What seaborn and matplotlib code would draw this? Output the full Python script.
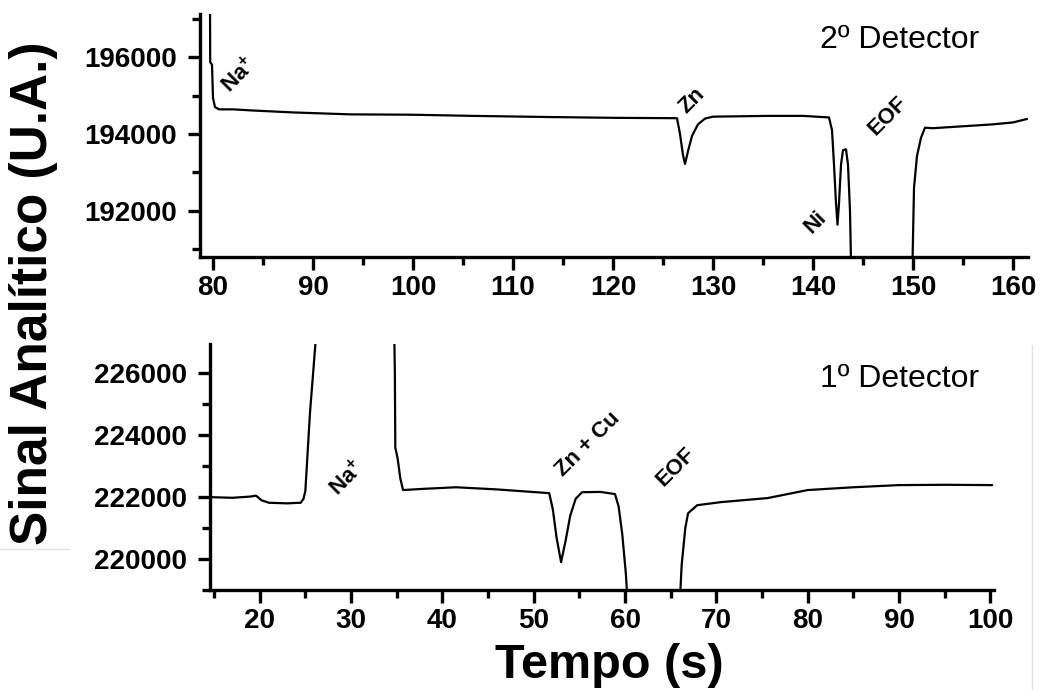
import matplotlib
matplotlib.use("Agg")
import matplotlib.pyplot as plt
import seaborn as sns
import pandas as pd
from matplotlib.lines import Line2D
from matplotlib.ticker import MultipleLocator

# ---------------- data ----------------
# 2º Detector (top panel)
t2 = [79.70, 79.72, 79.90, 80.00, 80.20, 80.60, 82.0, 84.0, 88.0, 93.7, 100.0, 106.0, 113.7,
      120.0, 126.4, 126.7, 127.0, 127.2, 127.5, 127.9, 128.5, 129.2, 130.0, 135.4, 139.0,
      141.6, 141.9, 142.1, 142.3, 142.45, 142.6, 142.8, 143.0, 143.3, 143.5, 143.7, 143.85,
      149.9, 150.1, 150.4, 150.8, 151.2, 152.0, 155.0, 158.0, 160.0, 161.4]
s2 = [197500, 195870, 195800, 194935, 194700, 194640, 194640, 194610, 194560, 194510, 194500,
      194470, 194440, 194420, 194410, 194000, 193450, 193220, 193550, 193950, 194250, 194400,
      194450, 194470, 194470, 194430, 194100, 193200, 192200, 191640, 192200, 193200, 193580,
      193600, 193200, 192000, 190000, 190000, 192600, 193430, 193900, 194163, 194150, 194200,
      194250, 194300, 194390]

# 1º Detector (bottom panel)
t1 = [14.6, 17.0, 19.0, 19.6, 20.2, 21.0, 23.0, 24.5, 24.8, 25.0, 25.5, 26.1, 26.3,
      34.7, 34.8, 34.85, 35.1, 35.4, 35.7, 38.0, 41.5, 46.0, 51.7, 52.1, 52.5, 53.0, 53.5,
      54.0, 54.6, 55.3, 57.3, 58.9, 59.3, 59.7, 60.1, 60.4,
      65.9, 66.2, 66.6, 66.9, 67.9, 70.5, 75.6, 80.0, 85.0, 90.0, 95.0, 100.2]
s1 = [222000, 221980, 222020, 222050, 221900, 221820, 221800, 221820, 221950, 222200, 224700,
      226950, 228000, 228000, 226000, 223600, 223260, 222600, 222230, 222270, 222320, 222250,
      222130, 221600, 220700, 219900, 220600, 221400, 221950, 222160, 222170, 222100, 221700,
      220800, 219500, 218000, 218000, 219800, 221000, 221480, 221740, 221840, 221970, 222230,
      222320, 222390, 222400, 222390]

# peak annotations: (label, x, y)
top_labels = [("Na$^{+}$", 82.6, 195530), ("Zn", 127.9, 194857),
              ("Ni", 140.2, 191714), ("EOF", 147.5, 194468)]
bottom_labels = [("Na$^{+}$", 29.6, 222613), ("Zn + Cu", 55.9, 223710),
                 ("EOF", 65.6, 222968)]

df2 = pd.DataFrame({"t": t2, "s": s2})
df1 = pd.DataFrame({"t": t1, "s": s1})

# ---------------- style ----------------
sns.set_style("ticks")
plt.rcParams["font.family"] = ["Liberation Sans", "DejaVu Sans"]
plt.rcParams["mathtext.fontset"] = "custom"
plt.rcParams["mathtext.rm"] = "Liberation Sans:bold"
plt.rcParams["mathtext.bf"] = "Liberation Sans:bold"
for k in ("text.color", "axes.labelcolor", "xtick.color", "ytick.color",
          "xtick.labelcolor", "ytick.labelcolor", "axes.edgecolor"):
    plt.rcParams[k] = "black"

W, H = 1042, 690
fig = plt.figure(figsize=(W / 100, H / 100), dpi=100)
fig.patch.set_facecolor("white")


def px_axes(l, t, r, b):
    return fig.add_axes([l / W, 1 - b / H, (r - l) / W, (b - t) / H])


ax_top = px_axes(200, 14, 1028, 257)
ax_bot = px_axes(210, 344, 994, 590)


def style_axes(ax):
    sns.despine(ax=ax)
    for sp in ("left", "bottom"):
        ax.spines[sp].set_linewidth(2.4)
        ax.spines[sp].set_color("black")
    ax.tick_params(which="major", direction="out", length=9, width=2.4,
                   labelsize=20, color="black", labelcolor="black")
    ax.tick_params(which="minor", direction="out", length=5.5, width=2.4, color="black")
    ax.tick_params(axis="y", which="major", pad=7.5)
    ax.tick_params(axis="x", which="major", pad=4)
    ax.set_xlabel("")
    ax.set_ylabel("")
    ax.set_facecolor("none")


sns.lineplot(data=df2, x="t", y="s", ax=ax_top, color="black", linewidth=1.6,
             sort=False, estimator=None)
ax_top.set_xlim(78.7, 161.5)
ax_top.set_ylim(190800, 197120)
ax_top.xaxis.set_major_locator(MultipleLocator(10))
ax_top.xaxis.set_minor_locator(MultipleLocator(5))
ax_top.yaxis.set_major_locator(MultipleLocator(2000))
ax_top.yaxis.set_minor_locator(MultipleLocator(1000))
style_axes(ax_top)

sns.lineplot(data=df1, x="t", y="s", ax=ax_bot, color="black", linewidth=1.6,
             sort=False, estimator=None)
ax_bot.set_xlim(14.56, 100.4)
ax_bot.set_ylim(219000, 226950)
ax_bot.xaxis.set_major_locator(MultipleLocator(10))
ax_bot.xaxis.set_minor_locator(MultipleLocator(5))
ax_bot.yaxis.set_major_locator(MultipleLocator(2000))
ax_bot.yaxis.set_minor_locator(MultipleLocator(1000))
style_axes(ax_bot)

for ax in (ax_top, ax_bot):
    for lab in ax.get_xticklabels() + ax.get_yticklabels():
        lab.set_fontweight("bold")
        lab.set_color("black")

for txt, x, y in top_labels:
    ax_top.text(x, y, txt, rotation=45, ha="center", va="center", fontsize=16,
                fontweight="bold", rotation_mode="anchor")
for txt, x, y in bottom_labels:
    ax_bot.text(x, y, txt, rotation=45, ha="center", va="center", fontsize=16,
                fontweight="bold", rotation_mode="anchor")

fig.text(820 / W, 1 - 48 / H, "2º Detector", fontsize=23, ha="left", va="baseline")
fig.text(820 / W, 1 - 387 / H, "1º Detector", fontsize=23, ha="left", va="baseline")

fig.text(34 / W, 1 - 293 / H, "Sinal Analítico (U.A.)", rotation=90, ha="center",
         va="center", fontsize=37, fontweight="bold")
fig.text(609 / W, 1 - 678 / H, "Tempo (s)", ha="center", va="baseline", fontsize=35,
         fontweight="bold")

# faint frame remnants of the composed figure
fig.add_artist(Line2D([1032 / W, 1032 / W], [1 - 345 / H, 0], color="#e2e2e2", lw=1))
fig.add_artist(Line2D([0, 69 / W], [1 - 549 / H, 1 - 549 / H], color="#e2e2e2", lw=1))

fig.savefig("out.png", dpi=100, facecolor="white")
